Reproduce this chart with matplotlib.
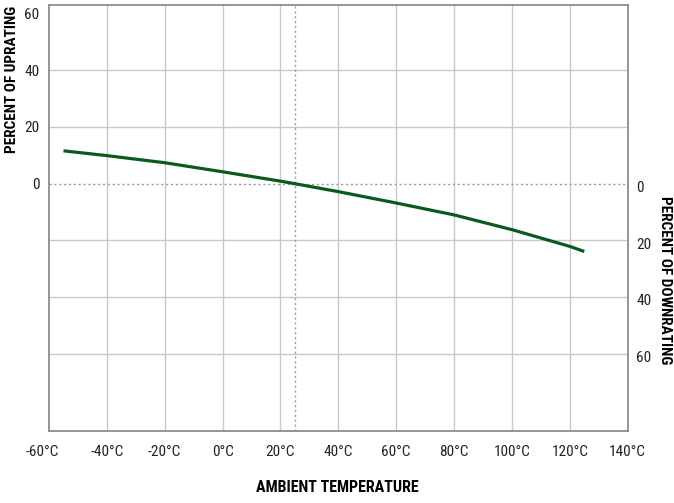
import numpy as np
import matplotlib
matplotlib.use('Agg')
import matplotlib.pyplot as plt
from matplotlib.transforms import ScaledTranslation

# data
temps = [-55, -40, -20, 0, 20, 25, 40, 60, 80, 100, 120, 125]
rating = [11.6, 9.9, 7.4, 4.2, 0.9, 0.0, -2.8, -6.8, -11.0, -16.2, -22.1, -23.9]

x_ticks = [-60, -40, -20, 0, 20, 40, 60, 80, 100, 120, 140]
x_labels = [f'{t}°C' for t in x_ticks]
up_ticks = [0, 20, 40, 60]
down_ticks = [0, -20, -40, -60]
down_labels = ['0', '20', '40', '60']
ref_temp = 25

plt.rcParams['font.family'] = ['Roboto Condensed', 'DejaVu Sans']

fig = plt.figure(figsize=(6.74, 5.03), dpi=100)
ax = fig.add_axes([0.0727, 0.1431, 0.8586, 0.8469])

grid_c = '#c8c8c8'
for t in x_ticks[1:-1]:
    ax.axvline(t, color=grid_c, lw=1.0, zorder=1)
for v in [40, 20, -20, -40, -60]:
    ax.axhline(v, color=grid_c, lw=1.0, zorder=1)
ax.axhline(0, color='#9a9a9a', lw=1.0, ls=(0, (1.5, 2)), zorder=2)
ax.axvline(ref_temp, color='#9a9a9a', lw=1.0, ls=(0, (1.5, 2)), zorder=2)

ax.plot(temps, rating, color='#0b5a1c', lw=2.3, zorder=3, solid_capstyle='butt')

ax.set_xlim(-60, 140)
ax.set_ylim(-87.2, 63)
ax.set_xticks(x_ticks)
ax.set_xticklabels(x_labels)
ax.set_yticks(up_ticks)
ax.tick_params(axis='x', length=0, pad=10, labelsize=11, labelcolor='#222222')
ax.tick_params(axis='y', length=0, pad=7, labelsize=11, labelcolor='#222222')
# first label sits a little left of its gridline in the original
first = ax.get_xticklabels()[0]
first.set_transform(first.get_transform() + ScaledTranslation(-5 / 72, 0, fig.dpi_scale_trans))

for s in ax.spines.values():
    s.set_color('#8c8c8c')
    s.set_linewidth(1.3)

ax2 = ax.twinx()
ax2.set_ylim(ax.get_ylim())
ax2.set_yticks(down_ticks)
ax2.set_yticklabels(down_labels)
ax2.tick_params(axis='y', length=0, pad=6, labelsize=11, labelcolor='#222222')
for lab in ax2.get_yticklabels():
    lab.set_transform(lab.get_transform() + ScaledTranslation(0, -2 / 72, fig.dpi_scale_trans))
for s in ax2.spines.values():
    s.set_visible(False)

fig.text(0.5, 0.030, 'AMBIENT TEMPERATURE', ha='center', va='center',
         fontsize=11.5, fontweight='bold')
fig.text(0.018, 0.842, 'PERCENT OF UPRATING', ha='center', va='center',
         rotation=90, fontsize=11, fontweight='bold')
fig.text(0.986, 0.443, 'PERCENT OF DOWNRATING', ha='center', va='center',
         rotation=-90, fontsize=11, fontweight='bold')

fig.savefig('out.png', dpi=100)
